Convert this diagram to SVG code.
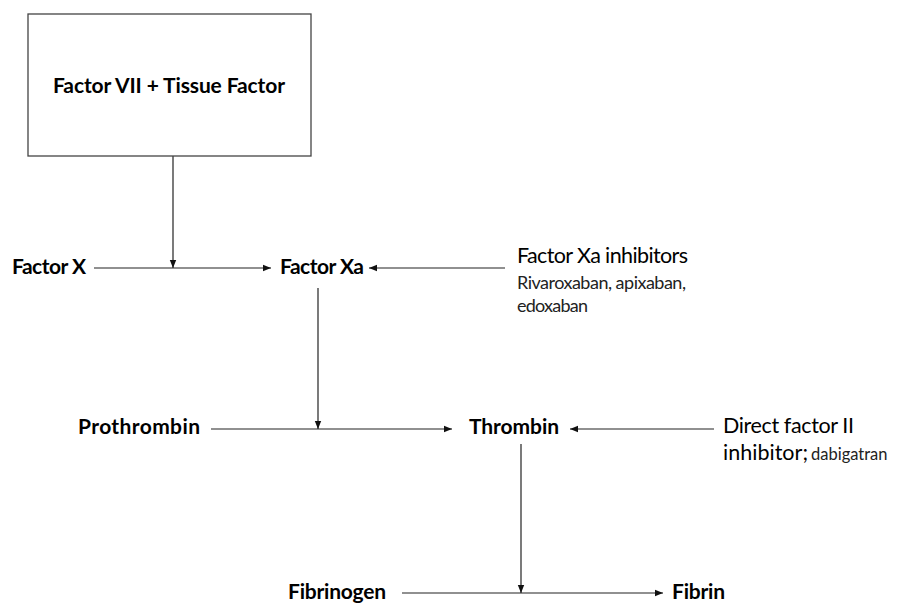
<svg xmlns="http://www.w3.org/2000/svg" width="898" height="606" viewBox="0 0 898 606">
  <style>
    .lbl { font-family: Lato, "Liberation Sans", sans-serif; font-size: 21.5px; fill: #000; }
    .b { font-weight: bold; font-size: 21px; }
    .sm { font-size: 18px; fill: #222; }
    .xs { font-size: 16.5px; fill: #222; }
    .box { fill: #fff; stroke: #444; stroke-width: 1.3; }
    .edge { fill: none; stroke: #222; stroke-width: 1.2; }
  </style>
  <defs>
    <marker id="arr" viewBox="0 0 8 8" refX="8" refY="4" markerWidth="8" markerHeight="8" markerUnits="userSpaceOnUse" orient="auto">
      <path d="M0,0.8 L8,4 L0,7.2 Z" fill="#111"/>
    </marker>
  </defs>
  <rect width="898" height="606" fill="#fff"/>

  <g id="connectors">
    <line class="edge" x1="173" y1="156" x2="173" y2="268" marker-end="url(#arr)"/>
    <line class="edge" x1="94" y1="268" x2="271" y2="268" marker-end="url(#arr)"/>
    <line class="edge" x1="505" y1="268" x2="369" y2="268" marker-end="url(#arr)"/>
    <line class="edge" x1="318" y1="288" x2="318" y2="429" marker-end="url(#arr)"/>
    <line class="edge" x1="211" y1="429" x2="452" y2="429" marker-end="url(#arr)"/>
    <line class="edge" x1="714" y1="429" x2="570" y2="429" marker-end="url(#arr)"/>
    <line class="edge" x1="521" y1="444" x2="521" y2="593" marker-end="url(#arr)"/>
    <line class="edge" x1="402" y1="593" x2="663" y2="593" marker-end="url(#arr)"/>
  </g>

  <g id="factor-vii-tf">
    <rect class="box" x="28" y="14" width="283" height="142"/>
    <text class="lbl b" x="53" y="93" textLength="232">Factor VII + Tissue Factor</text>
  </g>
  <g id="factor-x">
    <text class="lbl b" x="12" y="274" textLength="74">Factor X</text>
  </g>
  <g id="factor-xa">
    <text class="lbl b" x="280" y="274" textLength="84">Factor Xa</text>
  </g>
  <g id="xa-inhibitors">
    <text class="lbl" x="517" y="263" textLength="171">Factor Xa inhibitors</text>
    <text class="lbl sm" x="517" y="289" textLength="169">Rivaroxaban, apixaban,</text>
    <text class="lbl sm" x="517" y="312" textLength="71">edoxaban</text>
  </g>
  <g id="prothrombin">
    <text class="lbl b" x="78" y="434" textLength="122">Prothrombin</text>
  </g>
  <g id="thrombin">
    <text class="lbl b" x="469" y="434" textLength="90">Thrombin</text>
  </g>
  <g id="factor-ii-inhibitor">
    <text class="lbl" x="723" y="433" textLength="131">Direct factor II</text>
    <text class="lbl" x="723" y="460"><tspan textLength="85">inhibitor;</tspan><tspan class="xs" dx="3">dabigatran</tspan></text>
  </g>
  <g id="fibrinogen">
    <text class="lbl b" x="288" y="599" textLength="98">Fibrinogen</text>
  </g>
  <g id="fibrin">
    <text class="lbl b" x="672" y="599" textLength="53">Fibrin</text>
  </g>
</svg>
